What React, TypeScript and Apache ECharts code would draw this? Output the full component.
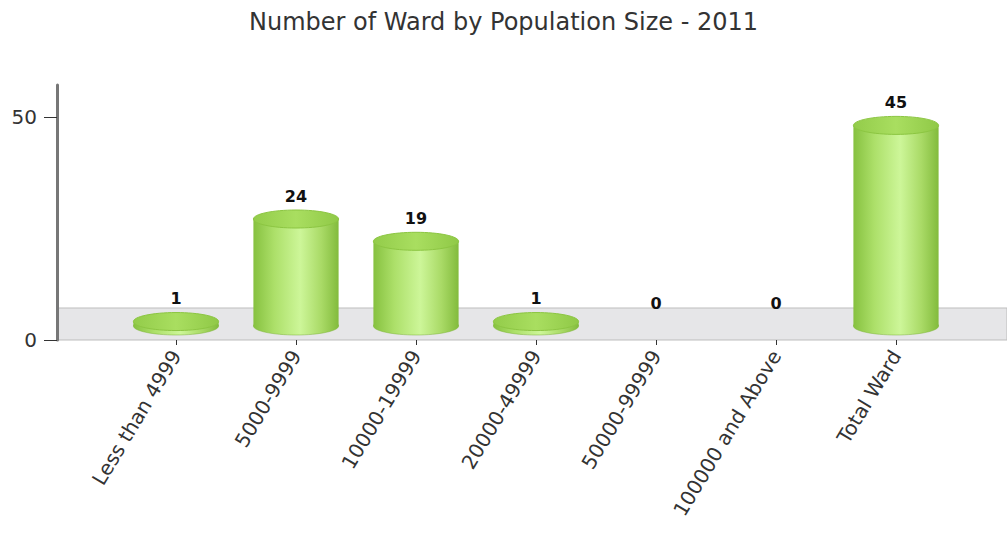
import React, { useEffect, useRef } from "react";
import * as echarts from "echarts";

const titleText = "Number of Ward by Population Size - 2011";
const categories = [
  "Less than 4999",
  "5000-9999",
  "10000-19999",
  "20000-49999",
  "50000-99999",
  "100000 and Above",
  "Total Ward",
];
const values = [1, 24, 19, 1, 0, 0, 45];
const yTicks = [0, 50];

const FONT = "DejaVu Sans, Verdana, sans-serif";
const DEPTH = 14;

export default function App() {
  const ref = useRef<HTMLDivElement>(null);
  useEffect(() => {
    document.body.style.margin = "0";
    const chart = echarts.init(ref.current!, null, { renderer: "svg" });
    const bodyGrad = new echarts.graphic.LinearGradient(0, 0, 1, 0, [
      { offset: 0, color: "#86c13f" },
      { offset: 0.25, color: "#ade06a" },
      { offset: 0.55, color: "#cdf699" },
      { offset: 0.8, color: "#a9da66" },
      { offset: 1, color: "#82bb3c" },
    ]);
    const topGrad = new echarts.graphic.LinearGradient(0, 0, 1, 0, [
      { offset: 0, color: "#93cc4a" },
      { offset: 0.5, color: "#a9de60" },
      { offset: 1, color: "#90c947" },
    ]);
    chart.setOption({
      animation: false,
      title: {
        text: titleText,
        left: "center",
        top: 5,
        textStyle: { fontFamily: FONT, fontSize: 24, fontWeight: "normal", color: "#333" },
      },
      graphic: [
        {
          type: "rect",
          z: 0,
          shape: { x: 57, y: 308, width: 950, height: 32 },
          style: { fill: "#e6e6e8", stroke: "#bdbdbd", lineWidth: 1 },
        },
      ],
      grid: { left: 116, width: 840, top: 85, height: 255 },
      xAxis: {
        type: "category",
        data: categories,
        axisLine: { show: false },
        axisTick: { show: true, alignWithLabel: true, length: 5, lineStyle: { color: "#333" } },
        axisLabel: {
          rotate: 59,
          margin: 12,
          fontFamily: FONT,
          fontSize: 20,
          color: "#333",
        },
      },
      yAxis: {
        type: "value",
        min: 0,
        max: 57.2,
        interval: 50,
        offset: 59,
        splitLine: { show: false },
        axisLine: { show: true, lineStyle: { color: "#777", width: 3 } },
        axisTick: { show: true, length: 13, customValues: yTicks, lineStyle: { color: "#333", width: 1 } },
        axisLabel: { customValues: yTicks, fontFamily: FONT, fontSize: 20, color: "#333", margin: 20 },
      },
      series: [
        {
          type: "custom",
          z: 5,
          data: values.map((v, i) => [i, v]),
          renderItem: (params: any, api: any) => {
            const i = api.value(0);
            const v = api.value(1);
            const base = api.coord([i, 0]);
            const top = api.coord([i, v]);
            const cx = base[0];
            const y0 = base[1] - DEPTH;
            const y1 = top[1] - DEPTH;
            const w = api.size([1, 0])[0] * 0.71;
            const rx = w / 2;
            const ry = 9;
            const children: any[] = [];
            if (v > 0) {
              children.push({
                type: "ellipse",
                shape: { cx, cy: y0, rx, ry },
                style: { fill: bodyGrad, stroke: "#7db536", lineWidth: 0.5 },
              });
              children.push({
                type: "rect",
                shape: { x: cx - rx, y: y1, width: w, height: y0 - y1 },
                style: { fill: bodyGrad },
              });
              children.push({
                type: "ellipse",
                shape: { cx, cy: y1, rx, ry },
                style: { fill: topGrad, stroke: "#8cc642", lineWidth: 1 },
              });
            }
            children.push({
              type: "text",
              style: {
                text: String(v),
                x: cx,
                y: y1 - ry - 6,
                align: "center",
                verticalAlign: "bottom",
                fontFamily: FONT,
                fontSize: 16,
                fontWeight: "bold",
                fill: "#111",
              },
            });
            return { type: "group", children };
          },
        },
      ],
    });
    return () => chart.dispose();
  }, []);
  return <div ref={ref} style={{ width: 1007, height: 548 }} />;
}
